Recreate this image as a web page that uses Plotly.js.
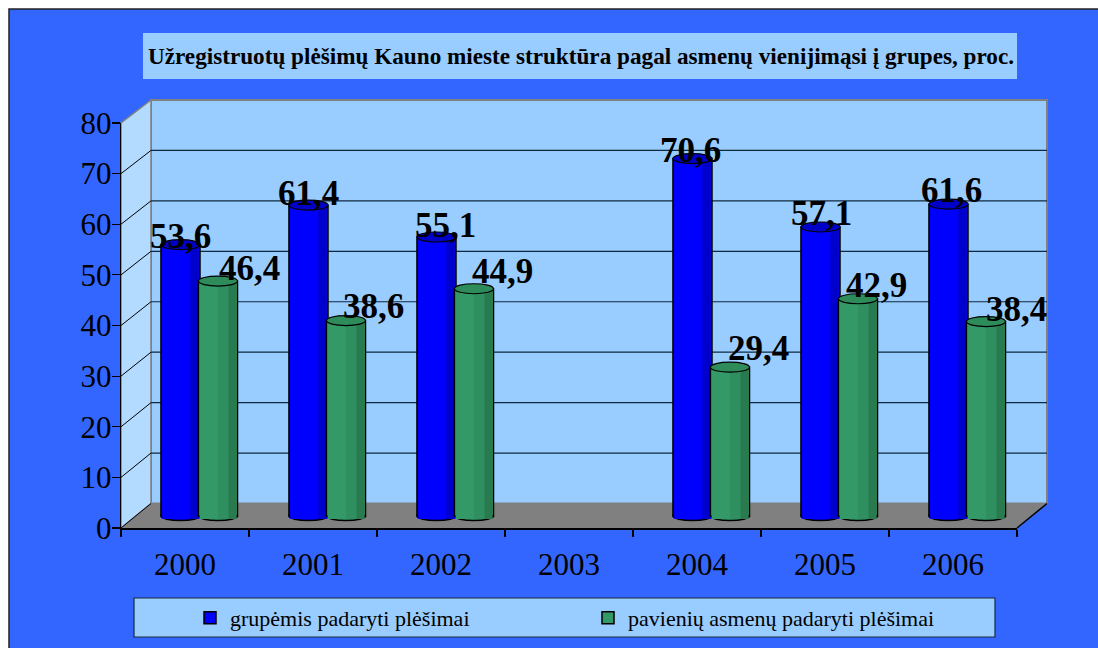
<!DOCTYPE html>
<html>
<head>
<meta charset="utf-8">
<script src="https://cdn.plot.ly/plotly-3.0.1.min.js"></script>
<style>html,body{margin:0;padding:0;background:#fff}#c{width:1098px;height:648px}</style>
</head>
<body>
<div id="c"></div>
<script>
const categories = ['2000','2001','2002','2003','2004','2005','2006'];
const groupValues = [53.6,61.4,55.1,null,70.6,57.1,61.6];
const singleValues = [46.4,38.6,44.9,null,29.4,42.9,38.4];
const groupName = 'grupėmis padaryti plėšimai';
const singleName = 'pavienių asmenų padaryti plėšimai';
const titleText = 'Užregistruotų plėšimų Kauno mieste struktūra pagal asmenų vienijimąsi į grupes, proc.';
const yTicks = [0,10,20,30,40,50,60,70,80];

const groupLabelShift = [0,0,9,0,-2,1,3];
const singleLabelShift = [30,26,27,0,27,17,29];
const groupLabelRise = [-5,-2,-2,0,-5,0,0];
const singleLabelRise = [-1,1,4,0,5,0,-1];

const W = 1098, H = 648;
const px = x => x / W, py = y => (H - y) / H;
const frontY = v => 528 - v * 5.0625, backY = v => 503.5 - v * 5.044;
const SERIF = '"Liberation Serif","Times New Roman",serif';
const BLUE = '#0000FF', BLUE_DARK = '#0000CC', BLUE_TOP = '#0000C8';
const GREEN = '#339966', GREEN_MID = '#2F8F60', GREEN_DARK = '#2A7A50', GREEN_TOP = '#2E8B5A';
const BW = 0.305;
const GO = -0.012;

function polygon(pts, fill, line, lw) {
  return {type:'path', xref:'paper', yref:'paper', layer:'below',
    path: pts.map((p,i)=>(i?'L':'M')+px(p[0])+','+py(p[1])).join(' ')+' Z',
    fillcolor: fill, line:{color:line||'rgba(0,0,0,0)', width:lw||0}};
}
function seg(a,b,color,w){
  return {type:'line', xref:'paper', yref:'paper', layer:'below',
    x0:px(a[0]), y0:py(a[1]), x1:px(b[0]), y1:py(b[1]), line:{color, width:w}};
}
const shapes = [];
shapes.push({type:'rect', xref:'paper', yref:'paper', layer:'below',
  x0:px(9), x1:px(1110), y0:py(660), y1:py(9), fillcolor:'#3366FF', line:{color:'#222', width:1.5}});
shapes.push(polygon([[143,33],[1017,33],[1017,79],[143,79]],'#99CCFF'));
shapes.push(polygon([[151,100],[1047,100],[1047,503.5],[151,503.5]],'#99CCFF','#808080',2));
shapes.push(polygon([[121,123],[151,100],[151,503.5],[121,528]],'#B3DBFF','#808080',1.5));
shapes.push(polygon([[121,528],[151,503.5],[1047,503.5],[1017,528]],'#808080'));
shapes.push(seg([1017,528],[1047,503.5],'#000',1.5));
yTicks.forEach(v=>{
  if(v>0 && v<80) shapes.push(seg([151,backY(v)],[1047,backY(v)],'#10283F',1.2));
  if(v<80) shapes.push(seg([121,frontY(v)],[151,backY(v)],'#000',1));
});
shapes.push(polygon([[134,598],[995,598],[995,637],[134,637]],'#99CCFF','#1A2A3A',1.2));

function caps(values, offset, width, topColor, bodyColor){
  values.forEach((v,i)=>{
    if(v===null) return;
    const x0=i+offset, x1=i+offset+width;
    shapes.push({type:'circle', xref:'x2', yref:'y2', layer:'below', x0, x1,
      ysizemode:'pixel', yanchor:0, y0:-4.5, y1:4.5, fillcolor:bodyColor, line:{color:'#000',width:1.5}});
    shapes.push({type:'circle', xref:'x2', yref:'y2', layer:'above', x0, x1,
      ysizemode:'pixel', yanchor:v, y0:-5, y1:5, fillcolor:topColor, line:{color:'#000',width:1.1}});
  });
}
caps(groupValues,-BW,BW,BLUE_TOP,BLUE);
caps(singleValues,GO,BW,GREEN_TOP,GREEN);

function bar(values,name,offset,width,color){
  return {type:'bar', x:categories, y:values, name, xaxis:'x2', yaxis:'y2',
    offset, width, marker:{color, line:{color:'#000',width:1.5}}, hoverinfo:'skip'};
}
function strip(values,offset,width,color){
  const base = values.map(v=>v===null?null:-0.6);
  const y = values.map(v=>v===null?null:v+0.6);
  return {type:'bar', x:categories, y, base, xaxis:'x2', yaxis:'y2', offset, width, showlegend:false,
    marker:{color, line:{width:0}}, hoverinfo:'skip'};
}
const inset = 0.009;
const data = [
  {type:'scatter', mode:'markers', x:categories, y:groupValues, xaxis:'x', yaxis:'y', showlegend:false,
    marker:{opacity:0}, hoverinfo:'skip'},
  bar(groupValues,groupName,-BW,BW,BLUE),
  strip(groupValues,-BW+inset,BW-2*inset,BLUE),
  strip(groupValues,-BW*0.25,BW*0.25-inset,BLUE_DARK),
  bar(singleValues,singleName,GO,BW,GREEN),
  strip(singleValues,GO+inset,BW-2*inset,GREEN),
  strip(singleValues,GO+BW*0.5,BW*0.27,GREEN_MID),
  strip(singleValues,GO+BW*0.77,BW*0.23-inset,GREEN_DARK)
];

const annotations = [];
function labels(values,center,shift,rise){
  values.forEach((v,i)=>{
    if(v===null) return;
    annotations.push({xref:'x2', yref:'y2', x:i+center, y:v, text:'<b>'+String(v).replace('.',',')+'</b>',
      showarrow:false, xanchor:'center', yanchor:'bottom', xshift:shift[i], yshift:-8+rise[i],
      font:{family:SERIF, size:35, color:'#000'}});
  });
}
labels(groupValues,-BW/2,groupLabelShift,groupLabelRise);
labels(singleValues,BW/2,singleLabelShift,singleLabelRise);

const layout = {
  width:W, height:H, margin:{l:0,r:0,t:0,b:0,pad:0},
  paper_bgcolor:'#FFFFFF', plot_bgcolor:'rgba(0,0,0,0)',
  barmode:'overlay',
  title:{text:titleText, x:581/W, xref:'paper', xanchor:'center', y:py(56), yref:'paper', yanchor:'middle',
    font:{family:SERIF, size:23.2, weight:700, color:'#000'}},
  xaxis:{domain:[px(121),px(1017)], type:'category', categoryorder:'array', categoryarray:categories,
    range:[-0.5,6.5], tickson:'boundaries', ticks:'outside', ticklen:7, tickcolor:'#000', tickwidth:1.2,
    showline:true, linecolor:'#000', linewidth:1.5, showgrid:false, zeroline:false, fixedrange:true,
    ticklabelstandoff:8, tickfont:{family:SERIF, size:31, color:'#000'}, anchor:'y'},
  yaxis:{domain:[py(528),py(123)], range:[0,80], tickvals:yTicks, ticks:'outside', ticklen:8, tickcolor:'#000', tickwidth:1.2,
    showline:true, linecolor:'#000', linewidth:1.2, showgrid:false, zeroline:false, fixedrange:true,
    ticklabelstandoff:-6, tickfont:{family:SERIF, size:31, color:'#000'}, anchor:'x'},
  xaxis2:{domain:[px(136),px(1032)], type:'category', categoryorder:'array', categoryarray:categories,
    range:[-0.5,6.5], visible:false, anchor:'y2', fixedrange:true},
  yaxis2:{domain:[py(528),py(111)], range:[-12/5.0625,80], visible:false, anchor:'x2', fixedrange:true},
  legend:{orientation:'h', x:px(190), xanchor:'left', y:py(597), yanchor:'top', bgcolor:'rgba(0,0,0,0)', borderwidth:0,
    entrywidth:353, entrywidthmode:'pixels', font:{family:SERIF, size:22, color:'#000'}, traceorder:'normal'},
  shapes, annotations, showlegend:true
};
Plotly.newPlot('c',data,layout,{displayModeBar:false,staticPlot:true});
</script>
</body>
</html>
